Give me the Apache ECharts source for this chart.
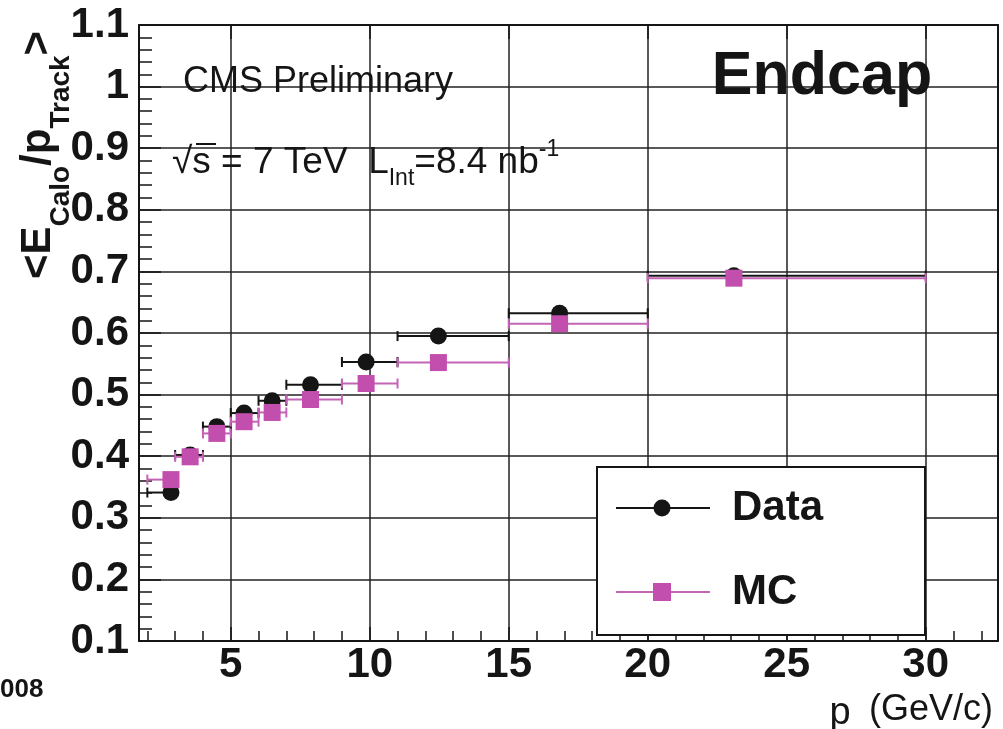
<!DOCTYPE html>
<html><head><meta charset="utf-8">
<script src="https://cdn.jsdelivr.net/npm/echarts@6/dist/echarts.min.js"></script>
<style>html,body{margin:0;padding:0;background:#fff}#c{width:1003px;height:729px}</style>
</head><body><div id="c"></div>
<script>
// ---- data ----
const binLow   = [2, 3, 4, 5, 6, 7, 9, 11, 15, 20];
const binHigh  = [3, 4, 5, 6, 7, 9, 11, 15, 20, 30];
const meanP    = [2.85, 3.54, 4.5, 5.48, 6.49, 7.87, 9.87, 12.47, 16.83, 23.1];
const dataVals = [0.341, 0.402, 0.448, 0.470, 0.490, 0.516, 0.553, 0.595, 0.632, 0.693];
const mcVals   = [0.362, 0.399, 0.437, 0.456, 0.471, 0.492, 0.518, 0.552, 0.615, 0.689];
const xLabelVals = [5, 10, 15, 20, 25, 30];
const xMinorVals = [2, 3, 4, 5, 6, 7, 8, 9, 10, 11, 12, 13, 14, 15, 16, 17, 18, 19, 20, 21, 22, 23, 24, 25, 26, 27, 28, 29, 30, 31, 32];
const yLabelVals = [0.1, 0.2, 0.3, 0.4, 0.5, 0.6, 0.7, 0.8, 0.9, 1.0, 1.1];

const FONT = "'Liberation Sans', Arial, Helvetica, sans-serif";
const INK = '#151515';
const MC = '#c24fae';
const MC_LINE = '#c464b6';

function errRender(color) {
  return function (params, api) {
    const lo = api.coord([api.value(0), api.value(2)]);
    const hi = api.coord([api.value(1), api.value(2)]);
    const cap = 5;
    const st = { stroke: color, lineWidth: 2 };
    return { type: 'group', children: [
      { type: 'line', shape: { x1: lo[0], y1: lo[1], x2: hi[0], y2: hi[1] }, style: st },
      { type: 'line', shape: { x1: lo[0], y1: lo[1] - cap, x2: lo[0], y2: lo[1] + cap }, style: st },
      { type: 'line', shape: { x1: hi[0], y1: hi[1] - cap, x2: hi[0], y2: hi[1] + cap }, style: st }
    ]};
  };
}

const dataBars = binLow.map((l, i) => [l, binHigh[i], dataVals[i]]);
const mcBars   = binLow.map((l, i) => [l, binHigh[i], mcVals[i]]);
const dataPts  = meanP.map((p, i) => [p, dataVals[i]]);
const mcPts    = meanP.map((p, i) => [p, mcVals[i]]);

const chart = echarts.init(document.getElementById('c'), null, { renderer: 'canvas' });
chart.setOption({
  animation: false,
  backgroundColor: '#fff',
  grid: { left: 139, right: 5, top: 25, bottom: 88, containLabel: false },
  xAxis: [{
    type: 'value', min: 1.7, max: 32.6, splitNumber: 6,
    axisLine: { show: true, onZero: false, lineStyle: { color: INK, width: 2 } },
    axisTick: { show: true, inside: true, length: 14, customValues: xLabelVals, lineStyle: { color: INK, width: 1.5 } },
    axisLabel: { show: true, customValues: xLabelVals, margin: 3, color: INK, fontSize: 42, fontWeight: 'bold', fontFamily: FONT },
    splitLine: { show: true, lineStyle: { color: '#222', width: 1.5 } }
  }, {
    type: 'value', min: 1.7, max: 32.6, position: 'top',
    axisLine: { show: true, onZero: false, lineStyle: { color: INK, width: 2 } },
    axisTick: { show: true, inside: true, length: 14, customValues: xLabelVals, lineStyle: { color: INK, width: 1.5 } },
    axisLabel: { show: false }, splitLine: { show: false }
  }, {
    type: 'value', min: 1.7, max: 32.6, position: 'bottom', offset: 0,
    axisLine: { show: false },
    axisTick: { show: true, inside: true, length: 10, customValues: xMinorVals, lineStyle: { color: INK, width: 1.5 } },
    axisLabel: { show: false }, splitLine: { show: false }
  }],
  yAxis: [{
    type: 'value', min: 0.1, max: 1.1, interval: 0.1,
    axisLine: { show: true, onZero: false, lineStyle: { color: INK, width: 2 } },
    axisTick: { show: true, inside: true, length: 22, lineStyle: { color: INK, width: 1.5 } },
    minorTick: { show: true, splitNumber: 5, length: 13, lineStyle: { color: INK, width: 1.5 } },
    axisLabel: { show: true, margin: 10, color: INK, fontSize: 42, fontWeight: 'bold', fontFamily: FONT,
      formatter: v => String(parseFloat(v.toFixed(1))) },
    splitLine: { show: true, lineStyle: { color: '#222', width: 1.5 } }
  }, {
    type: 'value', min: 0.1, max: 1.1, interval: 0.1, position: 'right',
    axisLine: { show: true, onZero: false, lineStyle: { color: INK, width: 2 } },
    axisTick: { show: false }, axisLabel: { show: false }, splitLine: { show: false }
  }],
  series: [
    { name: 'Data bars', type: 'custom', renderItem: errRender(INK), encode: { x: [0, 1], y: 2 }, data: dataBars, z: 3 },
    { name: 'Data', type: 'scatter', data: dataPts, symbol: 'circle', symbolSize: 17, itemStyle: { color: INK, opacity: 1 }, z: 4 },
    { name: 'MC bars', type: 'custom', renderItem: errRender(MC_LINE), encode: { x: [0, 1], y: 2 }, data: mcBars, z: 5 },
    { name: 'MC', type: 'scatter', data: mcPts, symbol: 'rect', symbolSize: 17, itemStyle: { color: MC, opacity: 1 }, z: 6 }
  ],
  graphic: [
    // y-axis title
    { type: 'text', x: 17, y: 155, rotation: Math.PI / 2, z: 20,
      style: {
        text: '{n|<E}{s|Calo}{n|/p}{s|Track}{n|>}',
        align: 'center', verticalAlign: 'top', fill: INK,
        rich: {
          n: { fontSize: 42, fontWeight: 'bold', fontFamily: FONT, lineHeight: 46, verticalAlign: 'top', fill: INK },
          s: { fontSize: 28, fontWeight: 'bold', fontFamily: FONT, lineHeight: 28, padding: [42, 0, 0, 0], fill: INK }
        }
      } },
    { type: 'text', x: 183, y: 82, z: 20,
      style: { text: 'CMS Preliminary', fontSize: 36, fontFamily: FONT, fill: INK, verticalAlign: 'middle' } },
    { type: 'text', x: 172, y: 163, z: 20,
      style: {
        text: '{a|√s = 7 TeV  L}{b|Int}{a|=8.4 nb}{c|-1}',
        verticalAlign: 'middle', fill: INK,
        rich: {
          a: { fontSize: 37, fontFamily: FONT, lineHeight: 42, fill: INK },
          b: { fontSize: 23, fontFamily: FONT, lineHeight: 23, padding: [32, 0, 0, 0], fill: INK },
          c: { fontSize: 23, fontFamily: FONT, lineHeight: 23, padding: [0, 0, 26, 0], fill: INK }
        }
      } },
    { type: 'line', z: 20, shape: { x1: 196, y1: 144, x2: 216, y2: 144 }, style: { stroke: INK, lineWidth: 2 } },
    { type: 'text', x: 822, y: 77, z: 20,
      style: { text: 'Endcap', fontSize: 61, fontWeight: 'bold', fontFamily: FONT, fill: INK, align: 'center', verticalAlign: 'middle' } },
    // legend
    { type: 'rect', z: 30, shape: { x: 597, y: 467, width: 328, height: 168 }, style: { fill: '#fff', stroke: INK, lineWidth: 2 } },
    { type: 'line', z: 31, shape: { x1: 616, y1: 508, x2: 710, y2: 508 }, style: { stroke: INK, lineWidth: 2 } },
    { type: 'circle', z: 32, shape: { cx: 662, cy: 508, r: 8.5 }, style: { fill: INK } },
    { type: 'text', z: 32, x: 732, y: 508, style: { text: 'Data', fontSize: 42, fontWeight: 'bold', fontFamily: FONT, fill: INK, verticalAlign: 'middle' } },
    { type: 'line', z: 31, shape: { x1: 616, y1: 592, x2: 710, y2: 592 }, style: { stroke: MC_LINE, lineWidth: 2 } },
    { type: 'rect', z: 32, shape: { x: 653, y: 583, width: 18, height: 18 }, style: { fill: MC } },
    { type: 'text', z: 32, x: 732, y: 592, style: { text: 'MC', fontSize: 42, fontWeight: 'bold', fontFamily: FONT, fill: INK, verticalAlign: 'middle' } },
    // x-axis title
    { type: 'text', z: 20, x: 840, y: 714, style: { text: 'p', fontSize: 38, fontFamily: FONT, fill: INK, align: 'center', verticalAlign: 'middle' } },
    { type: 'text', z: 20, x: 993, y: 710, style: { text: '(GeV/c)', fontSize: 36, fontFamily: FONT, fill: INK, align: 'right', verticalAlign: 'middle' } },
    { type: 'text', z: 20, x: 0, y: 690, style: { text: '008', fontSize: 26, fontWeight: 'bold', fontFamily: FONT, fill: INK, verticalAlign: 'middle' } }
  ]
});
</script></body></html>
